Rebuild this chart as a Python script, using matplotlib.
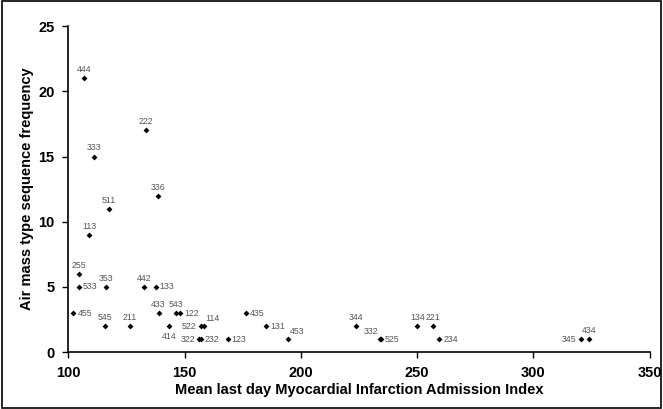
import matplotlib.pyplot as plt
from matplotlib.patches import Rectangle

# --- DATA --- #

codes = ['444', '222', '333', '336', '511', '113', '255', '533', '353', '442',
         '133', '455', '433', '543', '122', '545', '211', '414', '522', '114',
         '322', '232', '123', '435', '131', '453', '344', '332', '525', '134',
         '221', '234', '345', '434']
mlami = [106.8, 133.5, 111.0, 138.4, 117.6, 109.0, 104.5, 104.5, 116.0, 132.6,
         137.5, 102.2, 138.8, 146.5, 148.0, 115.7, 126.6, 143.5, 157.0, 158.3,
         156.4, 157.0, 168.5, 176.3, 185.2, 194.5, 223.5, 234.0, 234.3, 250.0,
         256.9, 259.4, 320.4, 323.9]
freq = [21, 17, 15, 12, 11, 9, 6, 5, 5, 5,
        5, 3, 3, 3, 3, 2, 2, 2, 2, 2,
        1, 1, 1, 3, 2, 1, 2, 1, 1, 2,
        2, 1, 1, 1]

# where each label sits relative to its point (default: above)
placement = {'533': 'right', '133': 'right', '455': 'right', '122': 'right',
             '414': 'below', '522': 'left', '114': 'aboveright', '322': 'left',
             '232': 'right', '123': 'right', '435': 'right', '131': 'right',
             '453': 'aboveright', '332': 'aboveleft', '525': 'right',
             '234': 'right', '345': 'left'}

offs = {'above': ((0, 3), 'center', 'bottom'),
        'right': ((3, 0), 'left', 'center'),
        'left': ((-3, 0), 'right', 'center'),
        'below': ((0, -4), 'center', 'top'),
        'aboveright': ((1, 2), 'left', 'bottom'),
        'aboveleft': ((-1, 2), 'right', 'bottom')}

plt.rcParams['font.family'] = ['Liberation Sans', 'DejaVu Sans']

fig = plt.figure(figsize=(6.63, 4.09), dpi=100)
ax = fig.add_axes([0.103, 0.139, 0.877, 0.797])

ax.scatter(mlami, freq, s=9, color='black', marker='D', linewidths=0, zorder=3)

for c, x, y in zip(codes, mlami, freq):
    pos = placement.get(c, 'above')
    (dx, dy), ha, va = offs[pos]
    ax.annotate(c, (x, y), xytext=(dx, dy), textcoords='offset points',
                ha=ha, va=va, fontsize=6.3, color='#555555')

ax.set_xlim(100, 350)
ax.set_ylim(0, 25)
ax.set_xticks([100, 150, 200, 250, 300, 350])
ax.set_yticks([0, 5, 10, 15, 20, 25])
for s in ['top', 'right']:
    ax.spines[s].set_visible(False)
for s in ['left', 'bottom']:
    ax.spines[s].set_linewidth(1.2)
ax.tick_params(direction='out', length=4, width=1, labelsize=10.5, pad=6)
for lab in ax.get_xticklabels() + ax.get_yticklabels():
    lab.set_fontweight('bold')

ax.set_xlabel('Mean last day Myocardial Infarction Admission Index',
              fontsize=10.5, fontweight='bold', labelpad=2)
ax.set_ylabel('Air mass type sequence frequency',
              fontsize=10.5, fontweight='bold', labelpad=3)

fig.patches.append(Rectangle((0.003, 0.003), 0.994, 0.994, transform=fig.transFigure,
                             fill=False, edgecolor='black', linewidth=1.2))

fig.savefig('out.png', dpi=100)
